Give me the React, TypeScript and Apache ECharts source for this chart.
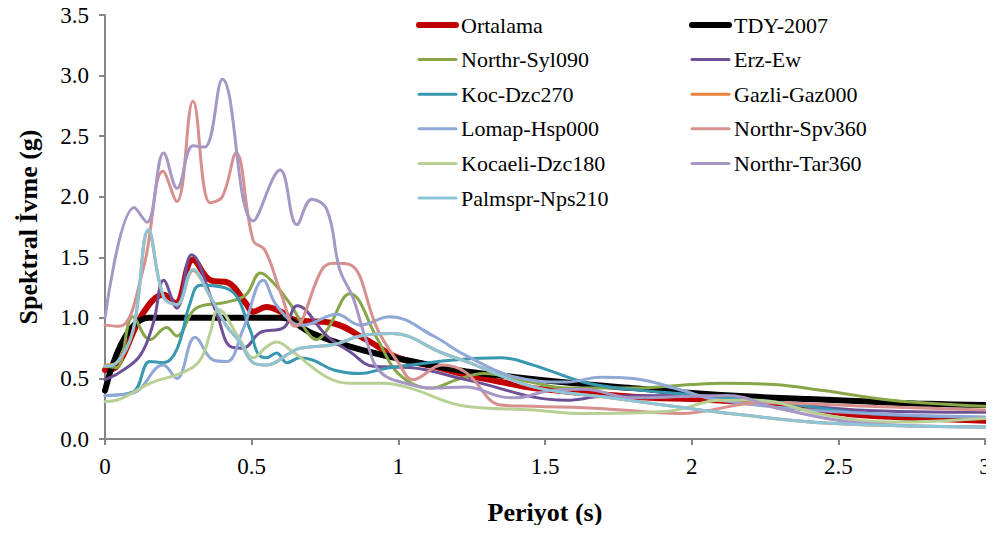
import React, { useEffect, useRef } from "react";
import * as echarts from "echarts";

const FONT = "'Liberation Serif', 'Times New Roman', serif";

const xTicks = [0, 0.5, 1, 1.5, 2, 2.5, 3];
const yTicks = [0, 0.5, 1, 1.5, 2, 2.5, 3, 3.5];

const ortalama = [[0,0.57],[0.04,0.6],[0.13,1.04],[0.2,1.19],[0.24,1.12],[0.3,1.48],[0.36,1.31],[0.42,1.29],[0.48,1.12],[0.505,1.05],[0.55,1.09],[0.6,1.05],[0.65,0.98],[0.77,0.96],[0.89,0.82],[1.0,0.67],[1.12,0.6],[1.23,0.53],[1.35,0.47],[1.46,0.42],[1.63,0.38],[1.86,0.34],[2.0,0.33],[2.22,0.3],[2.4,0.25],[2.56,0.2],[2.8,0.17],[3.0,0.15]];
const tdy2007 = [[0,0.4],[0.15,1.0],[0.6,1.0],[0.7,0.88],[0.8,0.79],[0.9,0.72],[1.0,0.665],[1.2,0.57],[1.4,0.51],[1.6,0.46],[1.8,0.42],[2.0,0.38],[2.2,0.35],[2.4,0.33],[2.6,0.31],[2.8,0.29],[3.0,0.28]];
const syl090 = [[0,0.6],[0.04,0.59],[0.095,1.01],[0.153,0.82],[0.21,0.92],[0.245,0.85],[0.31,1.08],[0.415,1.13],[0.48,1.19],[0.53,1.37],[0.57,1.3],[0.63,1.12],[0.69,0.88],[0.72,0.82],[0.757,0.9],[0.835,1.2],[0.93,0.82],[1.0,0.54],[1.11,0.42],[1.2,0.49],[1.29,0.54],[1.45,0.47],[1.575,0.42],[1.8,0.42],[2.0,0.45],[2.11,0.46],[2.28,0.45],[2.45,0.4],[2.68,0.32],[3.0,0.27]];
const erzEw = [[0,0.49],[0.05,0.55],[0.12,0.69],[0.165,0.96],[0.2,1.31],[0.245,1.08],[0.295,1.52],[0.38,1.04],[0.43,0.76],[0.47,0.75],[0.53,0.88],[0.61,0.92],[0.655,1.1],[0.757,0.85],[0.835,0.72],[0.915,0.6],[1.04,0.59],[1.23,0.49],[1.575,0.32],[1.69,0.35],[1.96,0.36],[2.3,0.3],[2.56,0.24],[3.0,0.22]];
const kocDzc270 = [[0,0.36],[0.096,0.39],[0.153,0.64],[0.2,0.63],[0.245,0.74],[0.29,1.12],[0.325,1.27],[0.426,1.23],[0.495,0.9],[0.52,0.71],[0.55,0.67],[0.585,0.71],[0.62,0.63],[0.665,0.67],[0.71,0.65],[0.78,0.57],[0.87,0.54],[0.95,0.58],[1.04,0.61],[1.18,0.65],[1.35,0.67],[1.46,0.61],[1.63,0.47],[1.75,0.42],[2.03,0.36],[2.3,0.3],[2.6,0.21],[3.0,0.18]];
const gazliGaz000 = [[0,0.61],[0.04,0.63],[0.096,0.9],[0.148,1.72],[0.2,1.17],[0.245,1.11],[0.3,1.39],[0.36,1.17],[0.415,0.93],[0.46,0.8],[0.505,0.63],[0.55,0.61],[0.63,0.71],[0.665,0.75],[0.78,0.78],[0.87,0.85],[0.98,0.87],[1.15,0.71],[1.23,0.64],[1.46,0.43],[1.69,0.35],[2.03,0.24],[2.13,0.21],[2.47,0.13],[3.0,0.1]];
const lomapHsp000 = [[0,0.36],[0.096,0.38],[0.198,0.61],[0.245,0.5],[0.307,0.84],[0.37,0.65],[0.415,0.64],[0.47,0.9],[0.54,1.31],[0.58,1.12],[0.64,0.96],[0.675,0.94],[0.79,1.03],[0.87,0.94],[0.97,1.01],[1.12,0.85],[1.23,0.69],[1.4,0.51],[1.575,0.47],[1.69,0.51],[1.8,0.5],[1.97,0.4],[2.07,0.33],[2.3,0.26],[2.6,0.21],[3.0,0.18]];
const spv360 = [[0,0.94],[0.05,0.93],[0.13,1.4],[0.198,2.21],[0.245,1.96],[0.3,2.79],[0.358,1.95],[0.4,2.0],[0.447,2.36],[0.505,1.64],[0.545,1.56],[0.6,1.2],[0.648,0.93],[0.74,1.4],[0.78,1.45],[0.835,1.44],[0.93,0.9],[1.0,0.63],[1.05,0.49],[1.15,0.61],[1.23,0.55],[1.35,0.28],[1.46,0.27],[1.7,0.25],[1.96,0.21],[2.24,0.3],[2.6,0.27],[3.0,0.24]];
const kocaeliDzc180 = [[0,0.31],[0.04,0.32],[0.153,0.46],[0.266,0.55],[0.324,0.65],[0.358,0.87],[0.386,1.07],[0.46,0.82],[0.505,0.67],[0.55,0.76],[0.585,0.8],[0.64,0.72],[0.757,0.51],[0.835,0.46],[0.95,0.46],[1.04,0.42],[1.23,0.27],[1.46,0.24],[1.63,0.21],[1.92,0.23],[2.1,0.32],[2.22,0.32],[2.45,0.2],[2.68,0.14],[3.0,0.17]];
const tar360 = [[0,1.0],[0.1,1.91],[0.143,1.79],[0.2,2.36],[0.246,2.07],[0.3,2.42],[0.34,2.41],[0.4,2.97],[0.505,1.8],[0.597,2.22],[0.654,1.77],[0.705,1.98],[0.757,1.89],[0.8,1.4],[0.845,1.17],[0.89,0.82],[0.94,0.55],[1.04,0.45],[1.12,0.42],[1.23,0.43],[1.35,0.35],[1.4,0.34],[1.52,0.4],[1.63,0.41],[1.8,0.34],[1.97,0.35],[2.12,0.36],[2.3,0.25],[2.58,0.13],[3.0,0.1]];
const palmsprNps210 = [[0,0.6],[0.04,0.63],[0.096,0.9],[0.148,1.73],[0.2,1.17],[0.245,1.11],[0.3,1.4],[0.36,1.17],[0.415,0.93],[0.46,0.8],[0.505,0.63],[0.55,0.61],[0.63,0.71],[0.665,0.75],[0.78,0.78],[0.87,0.85],[0.98,0.87],[1.15,0.71],[1.23,0.64],[1.46,0.43],[1.69,0.35],[2.03,0.24],[2.13,0.21],[2.47,0.13],[3.0,0.1]];

const seriesDefs = [
  { name: "Ortalama", data: ortalama, color: "#C00000", width: 6 },
  { name: "TDY-2007", data: tdy2007, color: "#000000", width: 6 },
  { name: "Northr-Syl090", data: syl090, color: "#86A648", width: 3 },
  { name: "Erz-Ew", data: erzEw, color: "#6E5096", width: 3 },
  { name: "Koc-Dzc270", data: kocDzc270, color: "#3798B0", width: 3 },
  { name: "Gazli-Gaz000", data: gazliGaz000, color: "#E8843A", width: 3 },
  { name: "Lomap-Hsp000", data: lomapHsp000, color: "#8FA8D6", width: 3 },
  { name: "Northr-Spv360", data: spv360, color: "#D6908E", width: 3 },
  { name: "Kocaeli-Dzc180", data: kocaeliDzc180, color: "#B8D096", width: 3 },
  { name: "Northr-Tar360", data: tar360, color: "#A797C4", width: 3 },
  { name: "Palmspr-Nps210", data: palmsprNps210, color: "#8DC5D8", width: 3 },
];

const legendCol1 = ["Ortalama", "Northr-Syl090", "Koc-Dzc270", "Lomap-Hsp000", "Kocaeli-Dzc180", "Palmspr-Nps210"];
const legendCol2 = ["TDY-2007", "Erz-Ew", "Gazli-Gaz000", "Northr-Spv360", "Northr-Tar360"];

export default function App() {
  const ref = useRef<HTMLDivElement>(null);
  useEffect(() => {
    if (!ref.current) return;
    const chart = echarts.init(ref.current, null, { renderer: "svg" });
    const widthOf = (name: string) => seriesDefs.find((s) => s.name === name)?.width ?? 3;
    const legendItems = (names: string[]) =>
      names.map((n) => ({ name: n, lineStyle: { width: widthOf(n), cap: "round" } }));
    const legendBase = {
      orient: "vertical",
      top: 14,
      padding: 0,
      itemWidth: 37,
      itemHeight: 2,
      itemGap: 12.6,
      selectedMode: false,
      itemStyle: { opacity: 0 },
      textStyle: { fontFamily: FONT, fontSize: 22, color: "#000", lineHeight: 22 },
    };
    chart.setOption({
      animation: false,
      backgroundColor: "#fff",
      grid: { left: 105, right: 9, top: 15, bottom: 94, containLabel: false },
      legend: [
        { ...legendBase, left: 416, data: legendItems(legendCol1) },
        { ...legendBase, left: 689, data: legendItems(legendCol2) },
      ],
      xAxis: {
        type: "value",
        min: xTicks[0],
        max: xTicks[xTicks.length - 1],
        interval: 0.5,
        name: "Periyot (s)",
        nameLocation: "middle",
        nameGap: 60,
        nameTextStyle: { fontFamily: FONT, fontSize: 26, fontWeight: "bold", color: "#000" },
        axisLine: { lineStyle: { color: "#868686", width: 2 } },
        axisTick: { show: true, inside: false, length: 6, lineStyle: { color: "#868686", width: 2 } },
        axisLabel: { fontFamily: FONT, fontSize: 23, color: "#000", margin: 16 },
        splitLine: { show: false },
      },
      yAxis: {
        type: "value",
        min: yTicks[0],
        max: yTicks[yTicks.length - 1],
        interval: 0.5,
        name: "Spektral İvme (g)",
        nameLocation: "middle",
        nameGap: 64,
        nameTextStyle: { fontFamily: FONT, fontSize: 26, fontWeight: "bold", color: "#000" },
        axisLine: { show: true, lineStyle: { color: "#868686", width: 2 } },
        axisTick: { show: true, inside: false, length: 6, lineStyle: { color: "#868686", width: 2 } },
        axisLabel: { fontFamily: FONT, fontSize: 23, color: "#000", margin: 16, formatter: (v: number) => v.toFixed(1) },
        splitLine: { show: false },
      },
      series: seriesDefs.map((s) => ({
        name: s.name,
        type: "line",
        data: s.data,
        smooth: 0.4,
        symbol: "none",
        color: s.color,
        lineStyle: { color: s.color, width: s.width, cap: "round", join: "round" },
      })),
    });
    return () => chart.dispose();
  }, []);
  return <div ref={ref} style={{ width: 994, height: 533, margin: -8 }} />;
}
